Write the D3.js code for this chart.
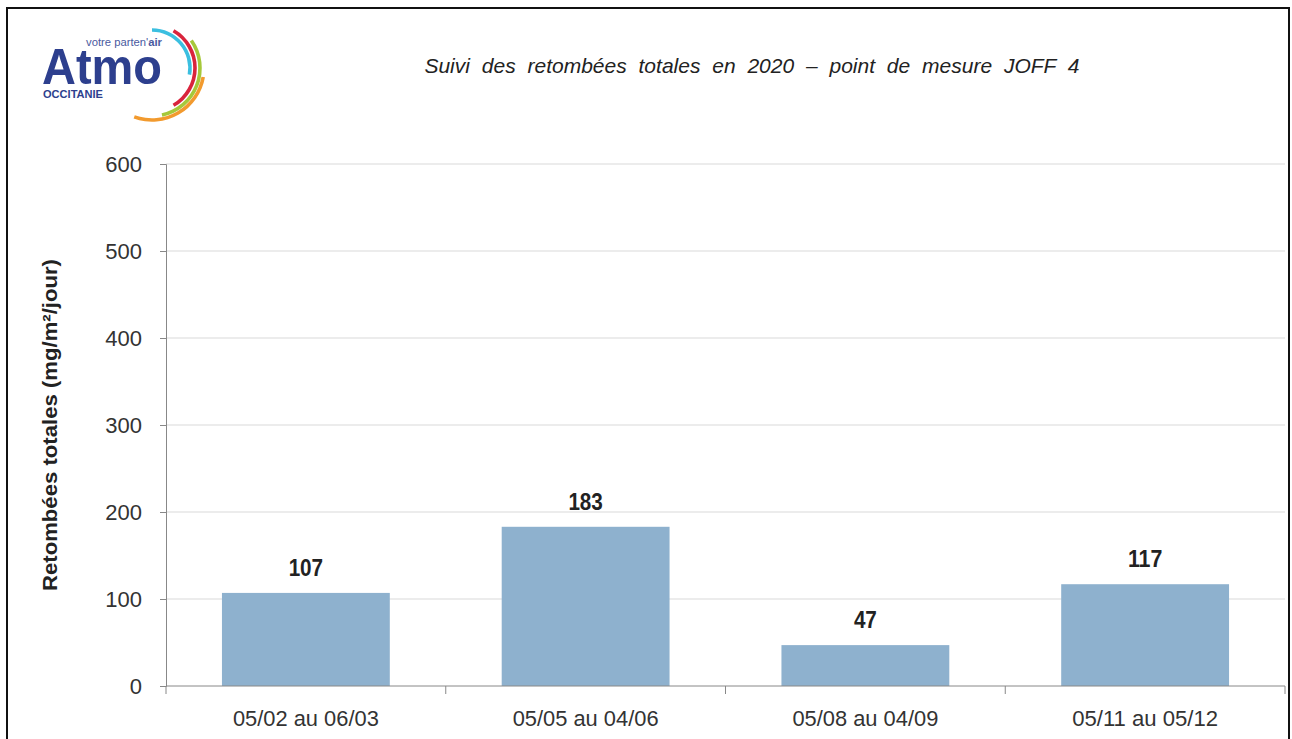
<!DOCTYPE html>
<html>
<head>
<meta charset="utf-8">
<script src="https://cdn.jsdelivr.net/npm/d3@7"></script>
<style>
  body { margin: 0; background: #fff; }
  svg { display: block; font-family: "Liberation Sans", Arial, sans-serif; }
</style>
</head>
<body>
<svg width="1292" height="739"></svg>
<script>
// data
var periods = ['05/02 au 06/03', '05/05 au 04/06', '05/08 au 04/09', '05/11 au 05/12'];
var retombees = [107, 183, 47, 117];
var yTicks = [0, 100, 200, 300, 400, 500, 600];

var svg = d3.select('svg');

// outer frame
svg.append('rect')
    .attr('x', 7).attr('y', 8)
    .attr('width', 1282).attr('height', 760)
    .attr('fill', 'none')
    .attr('stroke', '#111')
    .attr('stroke-width', 2);

// logo (rough drawing of the Atmo Occitanie mark)
var logo = svg.append('g');
logo.append('text')
    .attr('x', 42).attr('y', 84)
    .attr('font-size', 50).attr('font-weight', 'bold')
    .attr('fill', '#2d3f8e')
    .attr('textLength', 120).attr('lengthAdjust', 'spacingAndGlyphs')
    .text('Atmo');
var tag = logo.append('text')
    .attr('x', 86).attr('y', 46)
    .attr('font-size', 10).attr('fill', '#4a5aa0')
    .attr('textLength', 76).attr('lengthAdjust', 'spacingAndGlyphs');
tag.append('tspan').text("votre parten'");
tag.append('tspan').attr('font-weight', 'bold').text('air');
logo.append('text')
    .attr('x', 43).attr('y', 98)
    .attr('font-size', 10).attr('font-weight', 'bold')
    .attr('fill', '#2d3f8e')
    .attr('textLength', 60).attr('lengthAdjust', 'spacingAndGlyphs')
    .text('OCCITANIE');

var swooshes = [
    {c: '#3bbfe0', r: 38, a0: 0, a1: 100},
    {c: '#d9243c', r: 43, a0: 30, a1: 150},
    {c: '#a6c83a', r: 48, a0: 55, a1: 168},
    {c: '#f29a2e', r: 52, a0: 100, a1: 200}
];
var arc = d3.arc();
logo.selectAll('path.sw')
    .data(swooshes)
    .enter().append('path')
    .attr('class', 'sw')
    .attr('transform', 'translate(152,68)')
    .attr('fill', function (d) { return d.c; })
    .attr('d', function (d) {
        return arc({innerRadius: d.r - 1.8, outerRadius: d.r + 1.8,
            startAngle: d.a0 * Math.PI / 180, endAngle: d.a1 * Math.PI / 180,
            cornerRadius: 2});
    });

// title
svg.append('text')
    .attr('x', 752).attr('y', 73)
    .attr('text-anchor', 'middle')
    .attr('font-size', 21).attr('font-style', 'italic')
    .attr('fill', '#222')
    .attr('word-spacing', 6)
    .text('Suivi des retombées totales en 2020 – point de mesure JOFF 4');

// plot area
var pLeft = 166, pRight = 1285, pTop = 164, pBottom = 686;

var x = d3.scaleBand()
    .domain(periods)
    .range([pLeft, pRight])
    .paddingInner(0.4)
    .paddingOuter(0.2);

var y = d3.scaleLinear()
    .domain([0, 600])
    .range([pBottom, pTop]);

// gridlines
svg.append('g')
    .selectAll('line')
    .data(yTicks.filter(function (d) { return d > 0; }))
    .enter().append('line')
    .attr('x1', pLeft).attr('x2', pRight)
    .attr('y1', function (d) { return y(d); })
    .attr('y2', function (d) { return y(d); })
    .attr('stroke', '#d9d9d9')
    .attr('stroke-width', 1);

// bars
svg.append('g')
    .selectAll('rect')
    .data(retombees)
    .enter().append('rect')
    .attr('x', function (d, i) { return x(periods[i]); })
    .attr('width', x.bandwidth())
    .attr('y', function (d) { return y(d); })
    .attr('height', function (d) { return pBottom - y(d); })
    .attr('fill', '#8eb1ce');

// value labels
svg.append('g')
    .selectAll('text')
    .data(retombees)
    .enter().append('text')
    .attr('x', function (d, i) { return x(periods[i]) + x.bandwidth() / 2; })
    .attr('y', function (d) { return y(d) - 17; })
    .attr('text-anchor', 'middle')
    .attr('font-size', 24).attr('font-weight', 'bold')
    .attr('fill', '#222')
    .attr('textLength', function (d) { return String(d).length * 11.5; })
    .attr('lengthAdjust', 'spacingAndGlyphs')
    .text(function (d) { return d; });

// y axis
var yAxis = svg.append('g')
    .attr('transform', 'translate(' + pLeft + ',0)')
    .call(d3.axisLeft(y).tickValues(yTicks).tickSize(6).tickPadding(18));
yAxis.select('.domain').attr('stroke', '#888');
yAxis.selectAll('.tick line').attr('stroke', '#888');
yAxis.selectAll('.tick text')
    .attr('font-size', 22)
    .attr('fill', '#333')
    .attr('font-family', '"Liberation Sans", Arial, sans-serif');

// x axis: category ticks sit between bands
var xAxis = svg.append('g')
    .attr('transform', 'translate(0,' + pBottom + ')');
xAxis.append('line')
    .attr('x1', pLeft).attr('x2', pRight)
    .attr('stroke', '#888');
var step = x.step();
var bounds = d3.range(periods.length + 1).map(function (i) {
    return i === periods.length ? pRight : x(periods[i]) - step * 0.2;
});
xAxis.selectAll('line.tk')
    .data(bounds)
    .enter().append('line')
    .attr('class', 'tk')
    .attr('x1', function (d) { return d; })
    .attr('x2', function (d) { return d; })
    .attr('y1', 0).attr('y2', 8)
    .attr('stroke', '#888');
xAxis.selectAll('text')
    .data(periods)
    .enter().append('text')
    .attr('x', function (d) { return x(d) + x.bandwidth() / 2; })
    .attr('y', 40)
    .attr('text-anchor', 'middle')
    .attr('font-size', 22)
    .attr('fill', '#333')
    .attr('textLength', 146).attr('lengthAdjust', 'spacingAndGlyphs')
    .text(function (d) { return d; });

// y axis title
svg.append('text')
    .attr('transform', 'translate(57,425) rotate(-90)')
    .attr('text-anchor', 'middle')
    .attr('font-size', 21).attr('font-weight', 'bold')
    .attr('fill', '#222')
    .attr('textLength', 332).attr('lengthAdjust', 'spacingAndGlyphs')
    .text('Retombées totales (mg/m²/jour)');
</script>
</body>
</html>
